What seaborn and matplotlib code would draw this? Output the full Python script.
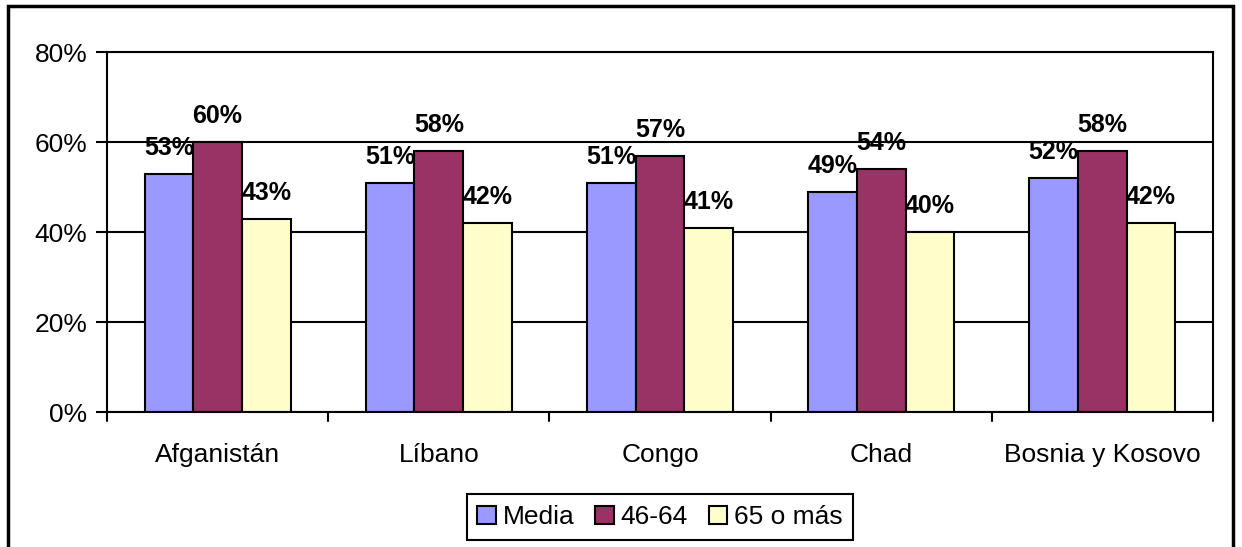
import pandas as pd
import matplotlib.pyplot as plt
import matplotlib.patches as mpatches
import seaborn as sns

paises = ['Afganistán', 'Líbano', 'Congo', 'Chad', 'Bosnia y Kosovo']
grupos = ['Media', '46-64', '65 o más']
media = [53, 51, 51, 49, 52]
edad_46_64 = [60, 58, 57, 54, 58]
edad_65_mas = [43, 42, 41, 40, 42]
colores = ['#9999FF', '#993366', '#FFFFCC']

df = pd.DataFrame({'pais': paises * 3,
                   'grupo': [g for g in grupos for _ in paises],
                   'valor': media + edad_46_64 + edad_65_mas})

sns.set_style('white')
plt.rcParams['font.family'] = ['Liberation Sans', 'DejaVu Sans']
plt.rcParams['text.color'] = 'black'
plt.rcParams['xtick.color'] = 'black'
plt.rcParams['ytick.color'] = 'black'

fig = plt.figure(figsize=(12.42, 5.47), dpi=100)
ax = fig.add_axes([107 / 1242, 135 / 547, (1213 - 107) / 1242, 360 / 547])

sns.barplot(data=df, x='pais', y='valor', hue='grupo', palette=colores,
            width=0.66, gap=0, edgecolor='black', linewidth=1.5,
            saturation=1, ax=ax, legend=False)

# etiquetas de datos encima de cada barra
for cont in ax.containers:
    ax.bar_label(cont, labels=[f'{int(v)}%' for v in cont.datavalues],
                 padding=10, fontsize=18, fontweight='bold', color='black')

ax.set_ylim(0, 80)
ax.set_xlim(-0.5, 4.5)
ax.set_yticks([0, 20, 40, 60, 80])
ax.set_yticklabels(['0%', '20%', '40%', '60%', '80%'], fontsize=19)
ax.yaxis.grid(True, color='black', linewidth=1.5)
ax.set_axisbelow(True)
ax.set_xlabel('')
ax.set_ylabel('')
ax.tick_params(axis='x', labelsize=19, length=0, pad=22)
ax.tick_params(axis='y', direction='out', length=8, width=1.5, left=True, pad=6)
for s in ax.spines.values():
    s.set_color('black')
    s.set_linewidth(1.5)

# marcas entre categorías en el eje x
for xb in [-0.5, 0.5, 1.5, 2.5, 3.5, 4.5]:
    ax.plot([xb, xb], [0, -2], color='black', linewidth=1.5, clip_on=False)

handles = [mpatches.Patch(facecolor=c, edgecolor='black', linewidth=1.5) for c in colores]
leg = fig.legend(handles, grupos, loc='center', bbox_to_anchor=(660 / 1242, (547 - 517) / 547),
                 ncol=3, fontsize=19, frameon=True, fancybox=False, edgecolor='black',
                 framealpha=1, handlelength=0.7, handleheight=0.7, handletextpad=0.25,
                 columnspacing=0.8, borderpad=0.4, borderaxespad=0)
leg.get_frame().set_linewidth(1.5)

fig.patches.append(mpatches.Rectangle((8 / 1242, -0.05), (1233 - 8) / 1242, 1.05 - 6 / 547,
                                      transform=fig.transFigure, fill=False,
                                      edgecolor='black', linewidth=2.5))

fig.savefig('out.png', dpi=100)
